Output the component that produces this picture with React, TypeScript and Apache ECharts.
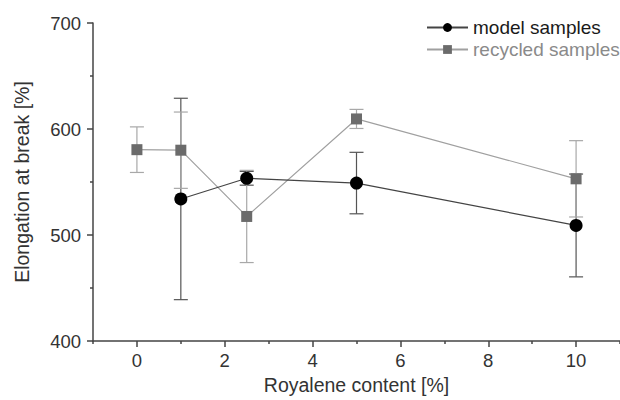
import React, { useEffect, useRef } from "react";
import * as echarts from "echarts";

const modelX = [1, 2.5, 5, 10];
const modelY = [534, 553.5, 549, 509];
const modelErr = [95, 6.5, 29, 48.5];

const recycledX = [0, 1, 2.5, 5, 10];
const recycledY = [580.5, 580, 517.5, 609.5, 553];
const recycledErr = [21.5, 36, 43.5, 9, 36];

const xMajorTicks = [0, 2, 4, 6, 8, 10];
const xMinorTicks = [-1, 1, 3, 5, 7, 9, 11];

const FONT = "'Liberation Sans', Arial, sans-serif";

function errData(xs: number[], ys: number[], es: number[]) {
  return xs.map((x, i) => [x, ys[i] - es[i], ys[i] + es[i]]);
}

function errRender(color: string) {
  return (params: any, api: any) => {
    const x = api.value(0);
    const lo = api.coord([x, api.value(1)]);
    const hi = api.coord([x, api.value(2)]);
    const hw = 7;
    const style = { stroke: color, lineWidth: 1.2 };
    return {
      type: "group",
      children: [
        { type: "line", shape: { x1: lo[0], y1: lo[1], x2: hi[0], y2: hi[1] }, style },
        { type: "line", shape: { x1: lo[0] - hw, y1: lo[1], x2: lo[0] + hw, y2: lo[1] }, style },
        { type: "line", shape: { x1: hi[0] - hw, y1: hi[1], x2: hi[0] + hw, y2: hi[1] }, style },
      ],
    };
  };
}

export default function App() {
  const ref = useRef<HTMLDivElement>(null);
  useEffect(() => {
    if (!ref.current) return;
    const chart = echarts.init(ref.current, null, { renderer: "svg" });
    const lineStyle = { color: "#444", width: 1.5 };
    chart.setOption({
      animation: false,
      backgroundColor: "#fff",
      textStyle: { fontFamily: FONT },
      grid: { left: 93, top: 23, right: 0, bottom: 59 },
      legend: {
        orient: "vertical",
        left: 421,
        top: 13,
        itemWidth: 41,
        itemHeight: 11,
        itemGap: 3,
        textStyle: { fontSize: 19, fontFamily: FONT },
        data: [
          { name: "model samples", textStyle: { color: "#1a1a1a" } },
          { name: "recycled samples", textStyle: { color: "#8a8a8a" } },
        ],
      },
      xAxis: [
        {
          type: "value",
          position: "bottom",
          min: -1,
          max: 11,
          splitLine: { show: false },
          axisLine: { onZero: false, lineStyle },
          axisTick: { customValues: xMajorTicks, length: 6, lineStyle },
          axisLabel: { customValues: xMajorTicks, fontSize: 18.5, color: "#333", margin: 10, fontFamily: FONT },
          name: "Royalene content [%]",
          nameLocation: "middle",
          nameGap: 34,
          nameTextStyle: { fontSize: 19.5, color: "#333", fontFamily: FONT },
        },
        {
          type: "value",
          position: "bottom",
          min: -1,
          max: 11,
          splitLine: { show: false },
          axisLine: { show: false, onZero: false },
          axisTick: { customValues: xMinorTicks, length: 3, lineStyle },
          axisLabel: { show: false },
        },
      ],
      yAxis: {
        type: "value",
        min: 400,
        max: 700,
        interval: 100,
        splitLine: { show: false },
        axisLine: { show: true, onZero: false, lineStyle },
        axisTick: { show: true, length: 6, lineStyle },
        minorTick: { show: true, splitNumber: 2, length: 3, lineStyle },
        axisLabel: { fontSize: 18.5, color: "#333", margin: 12, fontFamily: FONT },
        name: "Elongation at break [%]",
        nameLocation: "middle",
        nameGap: 61,
        nameTextStyle: { fontSize: 19.5, color: "#333", fontFamily: FONT },
      },
      series: [
        {
          name: "model err",
          type: "custom",
          z: 1,
          renderItem: errRender("#555"),
          encode: { x: 0, y: [1, 2] },
          data: errData(modelX, modelY, modelErr),
        },
        {
          name: "recycled err",
          type: "custom",
          z: 1,
          renderItem: errRender("#a8a8a8"),
          encode: { x: 0, y: [1, 2] },
          data: errData(recycledX, recycledY, recycledErr),
        },
        {
          name: "recycled samples",
          type: "line",
          z: 3,
          symbol: "rect",
          symbolSize: 11,
          itemStyle: { color: "#6b6b6b" },
          lineStyle: { color: "#a0a0a0", width: 1.2 },
          data: recycledX.map((x, i) => [x, recycledY[i]]),
        },
        {
          name: "model samples",
          type: "line",
          z: 4,
          symbol: "circle",
          symbolSize: 13,
          itemStyle: { color: "#000" },
          lineStyle: { color: "#444", width: 1.2 },
          data: modelX.map((x, i) => [x, modelY[i]]),
        },
      ],
    });
    return () => chart.dispose();
  }, []);
  return (
    <div
      ref={ref}
      style={{ position: "fixed", left: 0, top: 0, width: 620, height: 400 }}
    />
  );
}
